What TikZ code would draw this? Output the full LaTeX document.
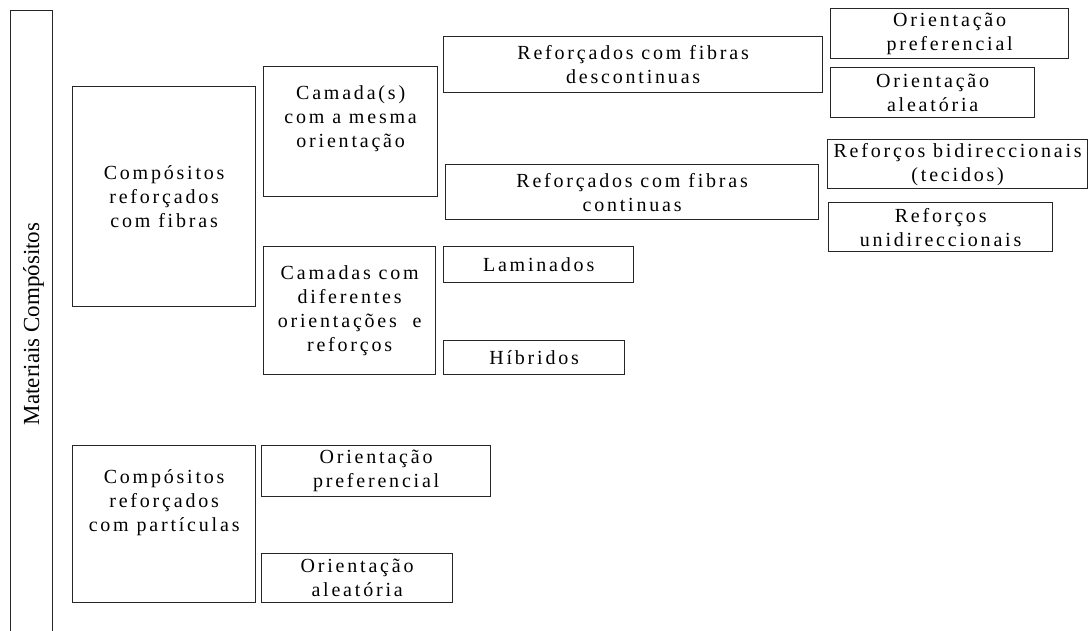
\documentclass[tikz,border=0pt]{standalone}
\usepackage{fontspec}
\setmainfont{Liberation Serif}
\newfontfamily\boxfont[LetterSpace=14]{Liberation Serif}
\usetikzlibrary{positioning,calc}

\begin{document}
\begin{tikzpicture}[x=1pt, y=-1pt,
    caixa/.style={draw=black!85, line width=1.3pt, anchor=north west, inner sep=0pt,
                  align=center, font=\boxfont\fontsize{20}{24}\selectfont}]
  \useasboundingbox (0,0) rectangle (1088,631);

  % coluna principal
  \node[caixa, minimum width=42pt, minimum height=640pt] (MC) at (10,10) {};
  \node[rotate=90, anchor=base, font=\fontsize{23}{27}\selectfont] (MCt) at (39,324) {Materiais Compósitos};

  % fibras
  \node[caixa, minimum width=183pt, minimum height=220pt] (CF) at (72,86) {Compósitos\\reforçados\\com fibras};
  \node[caixa, minimum width=174pt, minimum height=130pt] (CM) at (263,66) {Camada(s)\\com a mesma\\orientação\\[6pt]};
  \node[caixa, minimum width=172pt, minimum height=128pt] (CD) at (263,246) {Camadas com\\diferentes\\orientações\ \ e\\reforços};

  \node[caixa, minimum width=379pt, minimum height=56pt] (FD) at (443,36) {Reforçados com fibras\\descontinuas};
  \node[caixa, minimum width=373pt, minimum height=55pt] (FC) at (445,164) {Reforçados com fibras\\continuas};
  \node[caixa, minimum width=190pt, minimum height=36pt] (LA) at (443,246) {Laminados};
  \node[caixa, minimum width=181pt, minimum height=34pt] (HI) at (443,340) {Híbridos};

  \node[caixa, minimum width=238pt, minimum height=50pt] (OP1) at (830,8) {Orientação\\preferencial};
  \node[caixa, minimum width=204pt, minimum height=50pt] (OA1) at (830,67) {Orientação\\aleatória};
  \node[caixa, minimum width=260pt, minimum height=49pt] (RB) at (827,139) {Reforços bidireccionais\\(tecidos)};
  \node[caixa, minimum width=224pt, minimum height=49pt] (RU) at (828,202) {Reforços\\unidireccionais};

  % particulas
  \node[caixa, minimum width=183pt, minimum height=157pt] (CP) at (72,445) {Compósitos\\reforçados\\com partículas\\[24pt]};
  \node[caixa, minimum width=229pt, minimum height=51pt] (OP2) at (261,445) {Orientação\\preferencial};
  \node[caixa, minimum width=191pt, minimum height=49pt] (OA2) at (261,553) {Orientação\\aleatória};
\end{tikzpicture}
\end{document}
